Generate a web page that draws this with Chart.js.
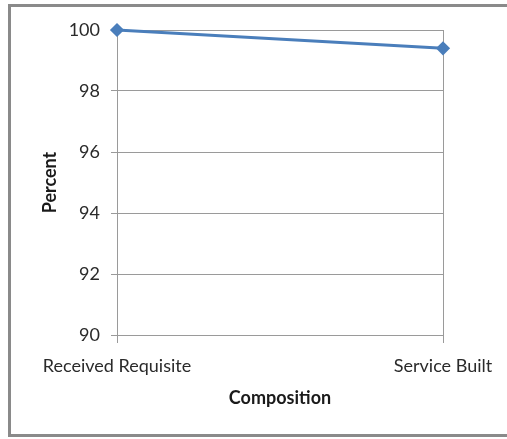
<!DOCTYPE html>
<html>
<head>
<meta charset="utf-8">
<script src="https://cdn.jsdelivr.net/npm/chart.js@4/dist/chart.umd.min.js"></script>
<style>
  html, body { margin: 0; padding: 0; background: #fff; }
  #wrap { width: 507px; height: 439px; position: relative; }
</style>
</head>
<body>
<div id="wrap"><canvas id="chart" width="507" height="439"></canvas></div>
<script>
// Categories and measured percentages
const categories = ['Received Requisite', 'Service Built'];
const percentValues = [100, 99.4];
const yTicks = [90, 92, 94, 96, 98, 100];

const FONT = 'Lato, "Open Sans", sans-serif';
const GRID = '#9a9a9a';

// Frame around the whole chart
const framePlugin = {
  id: 'frame',
  beforeDraw(chart) {
    const ctx = chart.ctx;
    ctx.save();
    ctx.fillStyle = '#ffffff';
    ctx.fillRect(0, 0, chart.width, chart.height);
    ctx.strokeStyle = '#8a8a8a';
    ctx.lineWidth = 3;
    ctx.strokeRect(9.5, 5.5, 520, 430);
    ctx.restore();
  }
};

new Chart(document.getElementById('chart'), {
  type: 'line',
  data: {
    labels: categories,
    datasets: [{
      data: percentValues,
      borderColor: '#4a7ebb',
      backgroundColor: '#4a7ebb',
      borderWidth: 3,
      pointStyle: 'rectRot',
      pointRadius: 5,
      pointHoverRadius: 5,
      tension: 0,
      clip: false
    }]
  },
  options: {
    responsive: false,
    animation: false,
    devicePixelRatio: 1,
    layout: { padding: { left: 0, right: 64, top: 30, bottom: 0 } },
    plugins: { legend: { display: false }, tooltip: { enabled: false } },
    scales: {
      x: {
        type: 'category',
        offset: false,
        grid: { display: true, color: GRID, lineWidth: 1, tickLength: 8, drawOnChartArea: true },
        border: { display: true, color: GRID },
        ticks: {
          color: '#2a2a2a',
          font: { family: FONT, size: 18 },
          padding: 12,
          maxRotation: 0,
          autoSkip: false
        },
        title: {
          display: true,
          text: 'Composition',
          color: '#1a1a1a',
          font: { family: FONT, size: 18, weight: 'bold' },
          padding: { top: 0, bottom: 30 }
        },
        afterFit(scale) { scale.height = 104; }
      },
      y: {
        min: 90,
        max: 100,
        afterBuildTicks(scale) { scale.ticks = yTicks.map(v => ({ value: v })); },
        grid: { color: GRID, lineWidth: 1, tickLength: 6 },
        border: { display: true, color: GRID },
        ticks: {
          color: '#2a2a2a',
          font: { family: FONT, size: 18 },
          padding: 11
        },
        title: {
          display: true,
          text: 'Percent',
          color: '#1a1a1a',
          font: { family: FONT, size: 18, weight: 'bold' },
          padding: { top: 39, bottom: 0 }
        },
        afterFit(scale) { scale.width = 117; }
      }
    }
  },
  plugins: [framePlugin]
});
</script>
</body>
</html>
